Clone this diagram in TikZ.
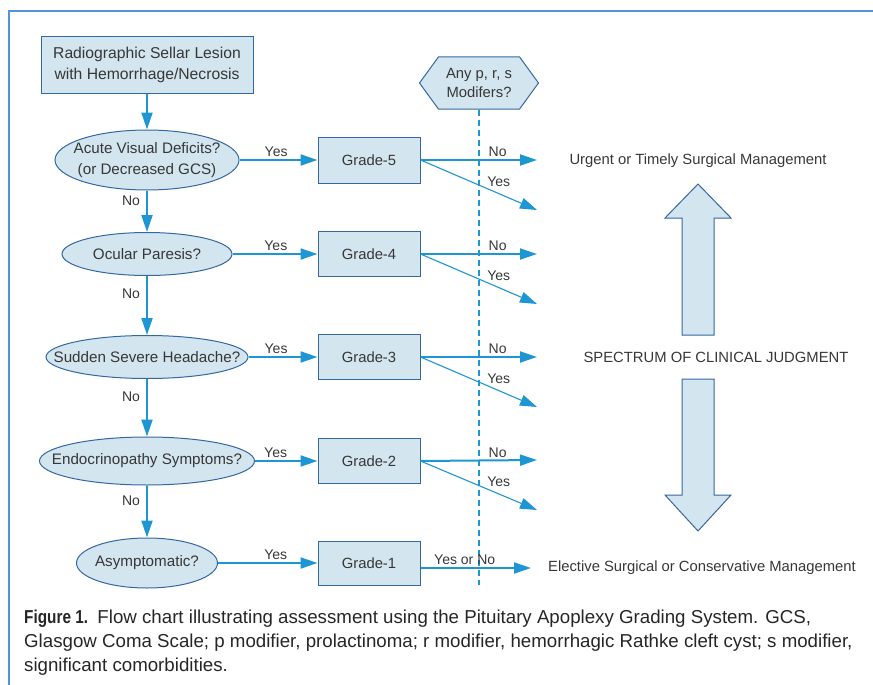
\documentclass[tikz,border=0pt]{standalone}
\usepackage{fontspec}
\setmainfont{Liberation Sans}
\newfontfamily\figbold[FakeStretch=0.82]{Liberation Sans Bold}
\usetikzlibrary{arrows.meta,shapes.geometric,shapes.symbols}

\definecolor{flowblue}{RGB}{30,150,212}
\definecolor{boxfill}{RGB}{211,229,238}
\definecolor{boxline}{RGB}{52,104,160}
\definecolor{txtgray}{RGB}{55,55,55}
\definecolor{frameblue}{RGB}{80,150,215}

% text of a query that does not widen its ellipse
\newcommand{\qline}[1]{\makebox[0pt]{#1}}

\tikzset{
  box/.style={rectangle, draw=boxline, fill=boxfill, line width=1pt, align=center},
  query/.style={ellipse, draw=boxline, fill=boxfill, line width=1pt, align=center, inner sep=0pt, font=\fontsize{15.2}{21}\selectfont},
  flow/.style={draw=flowblue, line width=2pt, -{Triangle[length=17pt,width=11pt]}},
  slant/.style={draw=flowblue, line width=1.1pt, -{Triangle[length=17pt,width=11pt]}},
  lbl/.style={font=\fontsize{14}{16}\selectfont, text=txtgray, inner sep=2pt},
}

\begin{document}
\begin{tikzpicture}[x=1pt, y=-1pt, node distance=95pt, font=\fontsize{15.7}{21}\selectfont, text=txtgray]
  \useasboundingbox (0,0) rectangle (873,685);
  \draw[frameblue, line width=2.5pt] (873,11) -- (9,11) -- (9,685);

  \node[box, minimum width=212pt, minimum height=57pt] (lesion) at (147,65) {Radiographic Sellar Lesion\\with Hemorrhage/Necrosis};
  \node[query, below of=lesion, minimum width=184pt, minimum height=60pt] (visual) {\qline{Acute Visual Deficits?}\\\qline{(or Decreased GCS)}};
  \node[query, below of=visual, node distance=94pt, minimum width=170pt, minimum height=43pt] (ocular) {\qline{Ocular Paresis?}};
  \node[query, below of=ocular, node distance=103pt, minimum width=202pt, minimum height=43pt] (headache) {\qline{Sudden Severe Headache?}};
  \node[query, below of=headache, node distance=104pt, minimum width=215pt, minimum height=48pt] (endo) {\qline{Endocrinopathy Symptoms?}};
  \node[query, below of=endo, node distance=102pt, minimum width=141pt, minimum height=50pt] (asympt) {\qline{Asymptomatic?}};

  \node[box, right of=visual, node distance=222pt, minimum width=102pt, minimum height=46pt, font=\fontsize{14.8}{17}\selectfont] (g5) {Grade-5};
  \node[box, right of=ocular, node distance=222pt, minimum width=102pt, minimum height=45pt, font=\fontsize{14.8}{17}\selectfont] (g4) {Grade-4};
  \node[box, right of=headache, node distance=222pt, minimum width=102pt, minimum height=45pt, font=\fontsize{14.8}{17}\selectfont] (g3) {Grade-3};
  \node[box, right of=endo, node distance=222pt, minimum width=102pt, minimum height=45pt, font=\fontsize{14.8}{17}\selectfont] (g2) {Grade-2};
  \node[box, right of=asympt, node distance=222pt, minimum width=102pt, minimum height=44pt, font=\fontsize{14.8}{17}\selectfont] (g1) {Grade-1};

  \node[signal, signal to=west and east, signal pointer angle=108, draw=boxline, fill=boxfill, line width=1pt, align=center,
        minimum width=119pt, minimum height=52pt, inner sep=1pt, font=\fontsize{14.8}{19}\selectfont] (modif) at (479,83) {Any p, r, s\\Modifers?};
  \coordinate (dashend) at (479,585);
  \draw[flowblue, line width=1.8pt, dash pattern=on 6pt off 4pt] (modif.south) -- (dashend);

  % outcome texts
  \node[font=\fontsize{14.8}{17}\selectfont] (urgent) at (698,161) {Urgent or Timely Surgical Management};
  \node[font=\fontsize{14.8}{17}\selectfont] (spectrum) at (716,357) {SPECTRUM OF CLINICAL JUDGMENT};
  \node[font=\fontsize{14.8}{17}\selectfont] (elective) at (702,568) {Elective Surgical or Conservative Management};

  % big arrows
  \draw[draw=boxline, fill=boxfill, line width=1pt] (682,335) -- (682,218) -- (665,218) -- (698,184) -- (731,218) -- (714,218) -- (714,335) -- cycle;
  \draw[draw=boxline, fill=boxfill, line width=1pt] (682,379) -- (682,495) -- (665,495) -- (698,531) -- (731,495) -- (714,495) -- (714,379) -- cycle;

  % decision chain
  \draw[flow] (lesion) -- (visual);
  \draw[flow] (visual) -- node[lbl, left, pos=0.25, inner xsep=6pt] {No} (ocular);
  \draw[flow] (ocular) -- node[lbl, left, pos=0.3, inner xsep=6pt] {No} (headache);
  \draw[flow] (headache) -- node[lbl, left, pos=0.3, inner xsep=6pt] {No} (endo);
  \draw[flow] (endo) -- node[lbl, left, pos=0.3, inner xsep=6pt] {No} (asympt);

  \draw[flow] (visual) -- node[lbl, above, pos=0.47] {Yes} (g5);
  \draw[flow] (ocular) -- node[lbl, above, pos=0.51] {Yes} (g4);
  \draw[flow] (headache) -- node[lbl, above, pos=0.4] {Yes} (g3);
  \draw[flow] (endo) -- node[lbl, above, pos=0.33] {Yes} (g2);
  \draw[flow] (asympt) -- node[lbl, above, pos=0.58] {Yes} (g1);

  % modifier branches
  \coordinate (no5) at (537,160);  \coordinate (yes5) at (537,210);
  \coordinate (no4) at (537,254);  \coordinate (yes4) at (537,304);
  \coordinate (no3) at (537,357);  \coordinate (yes3) at (537,407);
  \coordinate (no2) at (537,460);  \coordinate (yes2) at (537,510);
  \coordinate (end1) at (531,568);

  \draw[flow] (g5.east) -- node[lbl, pos=0.56, anchor=south west] {No} (no5);
  \draw[slant] (g5.east) -- node[lbl, pos=0.56, anchor=south west, inner sep=1pt] {Yes} (yes5);
  \draw[flow] (g4.east) -- node[lbl, pos=0.56, anchor=south west] {No} (no4);
  \draw[slant] (g4.east) -- node[lbl, pos=0.56, anchor=south west, inner sep=1pt] {Yes} (yes4);
  \draw[flow] (g3.east) -- node[lbl, pos=0.56, anchor=south west] {No} (no3);
  \draw[slant] (g3.east) -- node[lbl, pos=0.56, anchor=south west, inner sep=1pt] {Yes} (yes3);
  \draw[flow] (g2.east) -- node[lbl, pos=0.56, anchor=south west] {No} (no2);
  \draw[slant] (g2.east) -- node[lbl, pos=0.56, anchor=south west, inner sep=1pt] {Yes} (yes2);
  \draw[flow] (g1.east |- end1) -- node[lbl, above, pos=0.4] {Yes or No} (end1);

  % caption
  \node[anchor=north west, align=left, inner sep=0pt, font=\fontsize{18.7}{24}\selectfont, text=black!85] (caption) at (24,610)
    {{\figbold Figure 1.}\enspace Flow chart illustrating assessment using the Pituitary Apoplexy Grading System. GCS,\\
     Glasgow Coma Scale; p modifier, prolactinoma; r modifier, hemorrhagic Rathke cleft cyst; s modifier,\\
     significant comorbidities.};
\end{tikzpicture}
\end{document}
